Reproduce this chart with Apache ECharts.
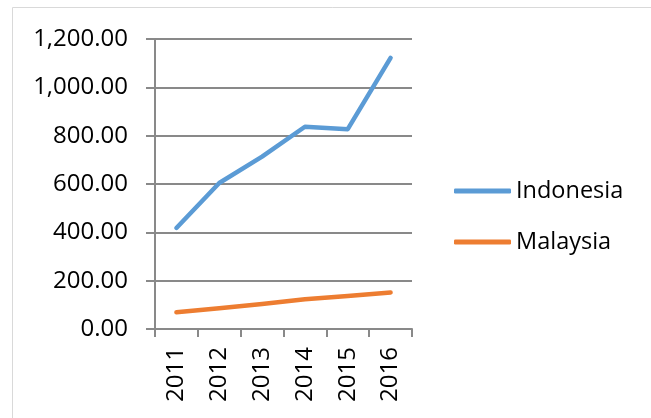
<!DOCTYPE html>
<html>
<head>
<meta charset="utf-8">
<script src="https://cdn.jsdelivr.net/npm/echarts@6/dist/echarts.min.js"></script>
<style>html,body{margin:0;padding:0;background:#fff;}#c{width:651px;height:418px;}</style>
</head>
<body>
<div id="c"></div>
<script>
const categories = ['2011', '2012', '2013', '2014', '2015', '2016'];
const indonesia = [418, 604, 713, 837, 827, 1122];
const malaysia = [69, 86, 103, 123, 137, 151];
const yTicks = [0, 200, 400, 600, 800, 1000, 1200];

function fmt(v) {
  const s = v.toFixed(2);
  const [i, d] = s.split('.');
  return i.replace(/\B(?=(\d{3})+(?!\d))/g, ',') + '.' + d;
}

const gray = '#898989';
const font = 'Open Sans';
const chart = echarts.init(document.getElementById('c'));
chart.setOption({
  animation: false,
  graphic: [{
    type: 'rect', silent: true,
    shape: { x: 12.5, y: 7.5, width: 700, height: 500 },
    style: { fill: 'none', stroke: '#d9d9d9', lineWidth: 1 }
  }],
  grid: { left: 155, right: 239, top: 39, bottom: 89 },
  legend: {
    orient: 'vertical', left: 449, top: 173, itemGap: 25,
    itemWidth: 57, itemHeight: 5,
    icon: 'roundRect',
    textStyle: { fontFamily: font, fontSize: 23.5, lineHeight: 26, color: '#000' },
    data: ['Indonesia', 'Malaysia']
  },
  xAxis: {
    type: 'category', data: categories, boundaryGap: true,
    axisLine: { lineStyle: { color: gray, width: 2 } },
    axisTick: { show: true, length: 8, lineStyle: { color: gray, width: 2 } },
    axisLabel: { rotate: 90, margin: 18, fontFamily: font, fontSize: 24, color: '#000' }
  },
  yAxis: {
    type: 'value', min: yTicks[0], max: yTicks[yTicks.length - 1], interval: 200,
    axisLine: { show: true, lineStyle: { color: gray, width: 2 } },
    axisTick: { show: true, length: 9, lineStyle: { color: gray, width: 2 } },
    splitLine: { lineStyle: { color: gray, width: 2 } },
    axisLabel: { margin: 27, fontFamily: font, fontSize: 24, color: '#000', formatter: fmt }
  },
  series: [
    { name: 'Indonesia', type: 'line', data: indonesia, showSymbol: false, symbol: 'none',
      itemStyle: { color: '#5B9BD5' },
      lineStyle: { color: '#5B9BD5', width: 4.5, cap: 'round', join: 'round' } },
    { name: 'Malaysia', type: 'line', data: malaysia, showSymbol: false, symbol: 'none',
      itemStyle: { color: '#ED7D31' },
      lineStyle: { color: '#ED7D31', width: 4.5, cap: 'round', join: 'round' } }
  ]
});
</script>
</body>
</html>
